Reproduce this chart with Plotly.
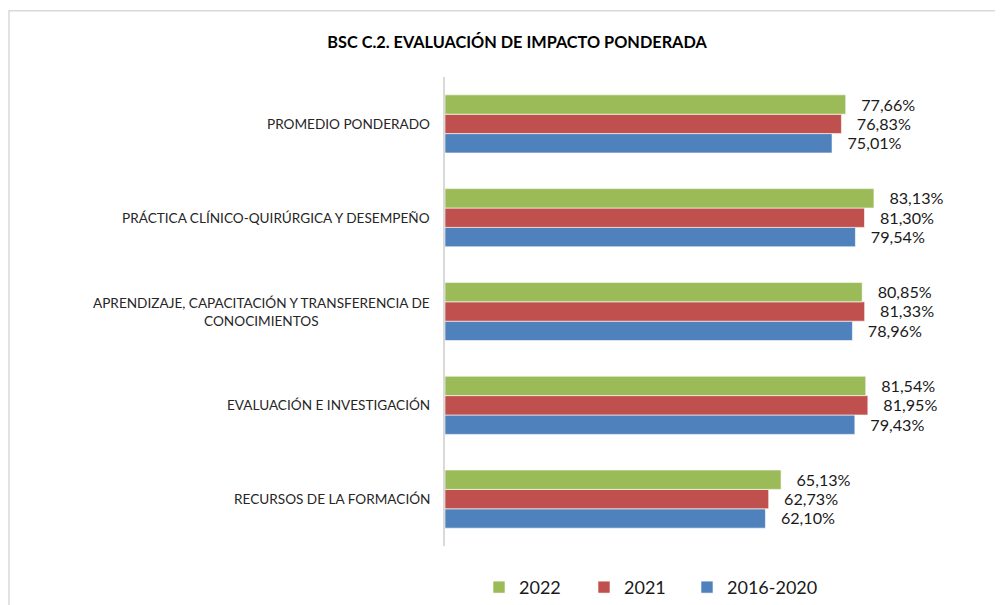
import plotly.graph_objects as go

# Categories, top to bottom as shown in the reference
categories = [
    "PROMEDIO PONDERADO",
    "PRÁCTICA CLÍNICO-QUIRÚRGICA Y DESEMPEÑO",
    "APRENDIZAJE, CAPACITACIÓN Y TRANSFERENCIA DE<br>CONOCIMIENTOS",
    "EVALUACIÓN E INVESTIGACIÓN",
    "RECURSOS DE LA FORMACIÓN",
]
series_names = ["2016-2020", "2021", "2022"]
values_2016_2020 = [75.01, 79.54, 78.96, 79.43, 62.10]
values_2021 = [76.83, 81.30, 81.33, 81.95, 62.73]
values_2022 = [77.66, 83.13, 80.85, 81.54, 65.13]
colors = {"2016-2020": "#4F81BD", "2021": "#C0504D", "2022": "#9BBB59"}

title_text = "BSC C.2. EVALUACIÓN DE IMPACTO PONDERADA"

series_values = {
    "2016-2020": values_2016_2020,
    "2021": values_2021,
    "2022": values_2022,
}

def fmt(v):
    return "\u00a0\u00a0\u00a0" + f"{v:.2f}".replace(".", ",") + "%"

# page body has an 8px default margin: work in screen pixels and shift
OFF = 8
W, H = 1003 - OFF, 605 - OFF
L, R, T, B = 445 - OFF, 1003 - 961, 76.5 - OFF, 605 - 546.5
pw, ph = W - L - R, H - T - B

def px_x(x):
    return (x - OFF - L) / pw

def px_y(y):
    return 1 - (y - OFF - T) / ph

# legend item left positions (screen pixels) for each series
legend_ids = {"2022": "legend", "2021": "legend2", "2016-2020": "legend3"}
legend_left_px = {"2022": 479, "2021": 584, "2016-2020": 687}

fig = go.Figure()
for name in series_names:
    vals = series_values[name]
    fig.add_trace(go.Bar(
        y=categories,
        x=vals,
        orientation="h",
        name=name,
        legend=legend_ids[name],
        marker=dict(color=colors[name], line=dict(color="white", width=0.6)),
        text=[fmt(v) for v in vals],
        textposition="outside",
        cliponaxis=False,
        textfont=dict(family="Lato", size=17.5, color="#1a1a1a"),
        hoverinfo="skip",
    ))

# category labels as annotations (centered multi-line like the reference)
for c in categories:
    fig.add_annotation(
        x=0, y=c, xref="x", yref="y",
        text=c, showarrow=False,
        xanchor="right", yanchor="middle", align="center",
        xshift=-13,
        font=dict(family="Lato", size=13.6, color="#262626"),
    )

# chart border (light gray frame)
fig.add_shape(type="rect", xref="paper", yref="paper",
              x0=px_x(9), x1=px_x(1020), y0=px_y(640), y1=px_y(10),
              line=dict(color="#d9d9d9", width=1.5), fillcolor="rgba(0,0,0,0)",
              layer="below")

def legend_cfg(name):
    return dict(orientation="h",
                x=px_x(legend_left_px[name]), xanchor="left",
                y=px_y(588), yanchor="middle",
                font=dict(family="Lato", size=18, color="#1a1a1a"),
                bgcolor="rgba(0,0,0,0)")

fig.update_layout(
    width=W, height=H,
    margin=dict(l=L, r=R, t=T, b=B, autoexpand=False),
    paper_bgcolor="white",
    plot_bgcolor="white",
    barmode="group",
    bargap=0.38,
    bargroupgap=0,
    title=dict(text="<b>" + title_text + "</b>", x=(517 - OFF) / W, xanchor="center",
               y=1 - (42 - OFF) / H, yanchor="middle",
               font=dict(family="Lato", size=16.3, color="#000000")),
    xaxis=dict(range=[0, 100], showgrid=False, zeroline=False, showticklabels=False,
               showline=False, ticks=""),
    yaxis=dict(categoryorder="array", categoryarray=categories[::-1],
               showticklabels=False, showgrid=False, zeroline=False,
               showline=True, linecolor="#d9d9d9", linewidth=1.5, ticks=""),
    legend=legend_cfg("2022"),
    legend2=legend_cfg("2021"),
    legend3=legend_cfg("2016-2020"),
    showlegend=True,
)

fig.write_html("out.html")
